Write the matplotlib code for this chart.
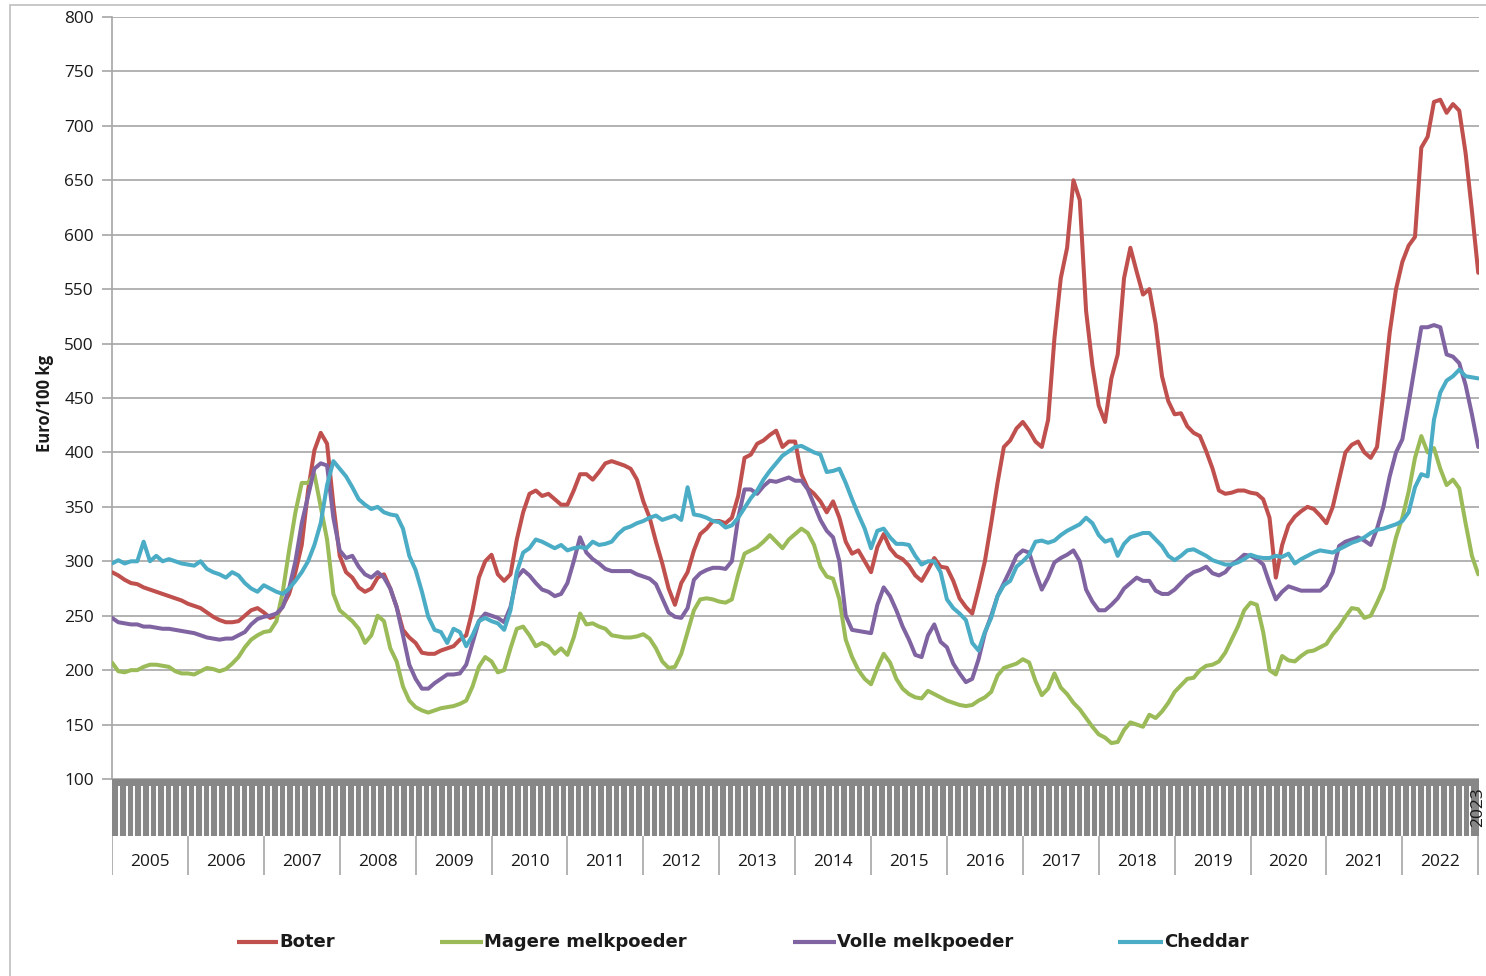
import numpy as np
import matplotlib
matplotlib.use("Agg")
import matplotlib.pyplot as plt
from matplotlib.lines import Line2D
from matplotlib.patches import Rectangle

# ---------------- data (monthly readings, Jan 2005 .. Jan 2023) ----------------
start_year = 2005
years = list(range(2005, 2023))
extra_label = "2023"

boter = [
    290, 287, 283, 280, 279, 276, 274, 272, 270, 268, 266, 264,   # 2005
    261, 259, 257, 253, 249, 246, 244, 244, 245, 250, 255, 257,   # 2006
    253, 248, 250, 259, 270, 290, 315, 365, 402, 418, 408, 352,   # 2007
    305, 290, 285, 276, 272, 275, 285, 288, 275, 258, 237, 230,   # 2008
    225, 216, 215, 215, 218, 220, 222, 228, 232, 255, 285, 300,   # 2009
    306, 288, 282, 288, 320, 345, 362, 365, 360, 362, 357, 352,   # 2010
    352, 365, 380, 380, 375, 382, 390, 392, 390, 388, 385, 375,   # 2011
    355, 340, 318, 298, 275, 260, 280, 290, 310, 325, 330, 337,   # 2012
    337, 335, 340, 360, 395, 398, 408, 411, 416, 420, 405, 410,   # 2013
    410, 380, 367, 362, 355, 345, 355, 340, 318, 307, 310, 300,   # 2014
    290, 313, 325, 312, 305, 302, 296, 287, 282, 292, 303, 295,   # 2015
    294, 282, 266, 258, 252, 275, 300, 335, 372, 405, 411, 422,   # 2016
    428, 420, 410, 405, 430, 505, 560, 588, 650, 632, 530, 480,   # 2017
    443, 428, 468, 490, 560, 588, 566, 545, 550, 518, 470, 447,   # 2018
    435, 436, 424, 418, 415, 401, 385, 365, 362, 363, 365, 365,   # 2019
    363, 362, 357, 340, 285, 315, 333, 341, 346, 350, 348, 342,   # 2020
    335, 350, 375, 400, 407, 410, 400, 395, 405, 455, 510, 550,   # 2021
    575, 590, 598, 680, 690, 722, 724, 712, 720, 714, 675, 622,   # 2022
    565,                                                          # 2023
]

magere = [
    207, 199, 198, 200, 200, 203, 205, 205, 204, 203, 199, 197,
    197, 196, 199, 202, 201, 199, 201, 206, 212, 221, 228, 232,
    235, 236, 245, 272, 310, 345, 372, 372, 380, 350, 320, 270,
    255, 250, 245, 238, 225, 232, 250, 245, 220, 208, 185, 172,
    166, 163, 161, 163, 165, 166, 167, 169, 172, 185, 203, 212,
    208, 198, 200, 220, 238, 240, 232, 222, 225, 222, 215, 220,
    214, 230, 252, 242, 243, 240, 238, 232, 231, 230, 230, 231,
    233, 229, 220, 208, 202, 203, 215, 235, 255, 265, 266, 265,
    263, 262, 265, 288, 307, 310, 313, 318, 324, 318, 312, 320,
    325, 330, 326, 315, 295, 286, 284, 265, 228, 212, 200, 192,
    187, 202, 215, 207, 192, 183, 178, 175, 174, 181, 178, 175,
    172, 170, 168, 167, 168, 172, 175, 180, 195, 202, 204, 206,
    210, 207, 190, 177, 183, 197, 184, 178, 170, 164, 156, 148,
    141, 138, 133, 134, 145, 152, 150, 148, 159, 156, 162, 170,
    180, 186, 192, 193, 200, 204, 205, 208, 216, 228, 240, 255,
    262, 260, 235, 200, 196, 213, 209, 208, 213, 217, 218, 221,
    224, 233, 240, 249, 257, 256, 248, 250, 262, 275, 298, 322,
    340, 364, 395, 415, 400, 404, 385, 370, 375, 367, 335, 305,
    288,
]

volle = [
    248, 244, 243, 242, 242, 240, 240, 239, 238, 238, 237, 236,
    235, 234, 232, 230, 229, 228, 229, 229, 232, 235, 242, 247,
    249, 250, 252, 258, 275, 300, 335, 360, 385, 390, 388, 340,
    310, 303, 305, 295, 288, 285, 290, 285, 275, 258, 232, 205,
    192, 183, 183, 188, 192, 196, 196, 197, 205, 225, 245, 252,
    250, 248, 244, 258, 285, 292, 287, 280, 274, 272, 268, 270,
    280, 300, 322, 308, 302, 298, 293, 291, 291, 291, 291, 288,
    286, 284, 279, 266, 253, 249, 248, 257, 283, 289, 292, 294,
    294, 293, 300, 340, 366, 366, 362, 369, 374, 373, 375, 377,
    374, 374, 366, 352, 338, 328, 322, 300, 250, 237, 236, 235,
    234, 260, 276, 268, 255, 240, 228, 214, 212, 232, 242, 226,
    221, 206, 197, 189, 192, 210, 234, 250, 268, 280, 292, 305,
    310, 308, 290, 274, 285, 299, 303, 306, 310, 300, 274, 263,
    255, 255, 260, 266, 275, 280, 285, 282, 282, 273, 270, 270,
    274, 280, 286, 290, 292, 295, 289, 287, 290, 297, 301, 306,
    305, 302, 297, 280, 265, 272, 277, 275, 273, 273, 273, 273,
    278, 290, 314, 318, 320, 322, 319, 315, 330, 350, 378, 400,
    412, 445, 480, 515, 515, 517, 515, 490, 488, 482, 462, 435,
    405,
]

cheddar = [
    298, 301, 298, 300, 300, 318, 300, 305, 300, 302, 300, 298,
    297, 296, 300, 293, 290, 288, 285, 290, 287, 280, 275, 272,
    278, 275, 272, 270, 275, 282, 290, 300, 315, 335, 370, 392,
    385, 378, 368, 357, 352, 348, 350, 345, 343, 342, 330, 305,
    292, 272, 249, 237, 235, 225, 238, 235, 222, 232, 245, 248,
    245, 243, 237, 255, 290, 308, 312, 320, 318, 315, 312, 315,
    310, 312, 313, 312, 318, 315, 316, 318, 325, 330, 332, 335,
    337, 340, 342, 338, 340, 342, 338, 368, 343, 342, 340, 337,
    336, 331, 333, 340, 349, 358, 365, 375, 383, 390, 397, 401,
    405, 406, 403, 400, 398, 382, 383, 385, 372, 357, 343, 330,
    312, 328, 330, 322, 316, 316, 315, 305, 297, 300, 300, 290,
    265, 257, 252, 246, 225, 218, 235, 248, 268, 278, 282, 295,
    300, 306, 318, 319, 317, 319, 324, 328, 331, 334, 340, 335,
    324, 318, 320, 305, 316, 322, 324, 326, 326, 320, 314, 305,
    301, 305, 310, 311, 308, 305, 301, 299, 297, 297, 299, 302,
    306, 304, 303, 303, 305, 304, 307, 298, 302, 305, 308, 310,
    309, 308, 311, 314, 317, 319, 322, 326, 329, 330, 332, 334,
    337, 345, 368, 380, 378, 430, 455, 466, 470, 476, 470, 469,
    468,
]

series_names = ["Boter", "Magere melkpoeder", "Volle melkpoeder", "Cheddar"]
series_values = [boter, magere, volle, cheddar]
series_colors = ["#C0504D", "#9BBB59", "#8064A2", "#4BACC6"]

y_ticks = list(range(100, 801, 50))
y_label = "Euro/100 kg"

# ---------------- layout ----------------
W_PX, H_PX = 1486, 976
def fx(px):
    return px / W_PX
def fy(py):
    return 1 - py / H_PX

TICK_FONT = ["Open Sans", "DejaVu Sans"]
TEXT_COLOR = "#1a1a1a"
GRID_COLOR = "#a6a6a6"

fig = plt.figure(figsize=(W_PX / 100, H_PX / 100), dpi=100)
fig.patch.set_facecolor("white")

x_left, x_right = 112, 1479
ax = fig.add_axes([fx(x_left), fy(779), fx(x_right) - fx(x_left), fy(17) - fy(779)])

t = start_year + np.arange(len(boter)) / 12.0
for name, vals, col in zip(series_names, series_values, series_colors):
    ax.plot(t, vals, color=col, lw=2.9, solid_joinstyle="round", solid_capstyle="round",
            label=name, zorder=3)

x_min, x_max = 2005.0, 2023.01
ax.set_xlim(x_min, x_max)
ax.set_ylim(100, 800)
ax.set_yticks(y_ticks)
ax.set_yticklabels([str(v) for v in y_ticks], fontfamily=TICK_FONT, fontsize=12.4,
                   color=TEXT_COLOR)
ax.set_xticks([])
ax.yaxis.grid(True, color=GRID_COLOR, lw=1.2, zorder=0)
ax.set_axisbelow(True)
ax.tick_params(axis="y", length=7, width=1.2, color=GRID_COLOR, pad=6)
for side in ["top", "right", "bottom"]:
    ax.spines[side].set_visible(False)
ax.spines["left"].set_color(GRID_COLOR)
ax.spines["left"].set_linewidth(1.2)

# grey band of (unreadable) weekly labels
bax = fig.add_axes([fx(x_left), fy(836), fx(x_right) - fx(x_left), fy(779) - fy(836)])
bax.set_facecolor("#878787")
bax.set_xlim(x_min, x_max)
bax.set_ylim(0, 1)
week_marks = np.arange(2005.096, 2022.99, 0.1)
bax.vlines(week_marks, 0, 0.88, color="white", lw=1.4)
bax.set_xticks([])
bax.set_yticks([])
for s in bax.spines.values():
    s.set_visible(False)
bax.text(2023.0, 0.5, extra_label, rotation=90, ha="center", va="center",
         fontfamily=TICK_FONT, fontsize=12.4, color=TEXT_COLOR, clip_on=False)

# year row
yax = fig.add_axes([fx(x_left), fy(875), fx(x_right) - fx(x_left), fy(836) - fy(875)])
yax.set_xlim(x_min, x_max)
yax.set_ylim(0, 1)
yax.axis("off")
yax.vlines(years + [2023], 0, 1, color=GRID_COLOR, lw=1.2)
for y in years:
    yax.text(y + 0.5, 0.34, str(y), ha="center", va="center",
             fontfamily=TICK_FONT, fontsize=12.4, color=TEXT_COLOR)

# y label
fig.text(fx(45), fy(403), y_label, rotation=90, ha="center", va="center",
         fontfamily=TICK_FONT, fontsize=12, fontweight="bold", color=TEXT_COLOR)

# legend (manual placement)
leg_y = fy(942)
leg_handles = [(237, 278), (440, 483), (793, 836), (1118, 1163)]
for (x0, x1), name, col in zip(leg_handles, series_names, series_colors):
    fig.add_artist(Line2D([fx(x0), fx(x1)], [leg_y, leg_y], transform=fig.transFigure,
                          color=col, lw=3.0, solid_capstyle="butt"))
    fig.text(fx(x1 + 1), leg_y, name, ha="left", va="center",
             fontfamily="DejaVu Sans", fontsize=13,
             fontweight="bold", color=TEXT_COLOR)

# outer chart border
fig.add_artist(Rectangle((fx(10), -0.05), 1.2, fy(5) + 0.05, transform=fig.transFigure,
                         fill=False, ec="#bfbfbf", lw=1.2))

fig.savefig("out.png", dpi=100)
